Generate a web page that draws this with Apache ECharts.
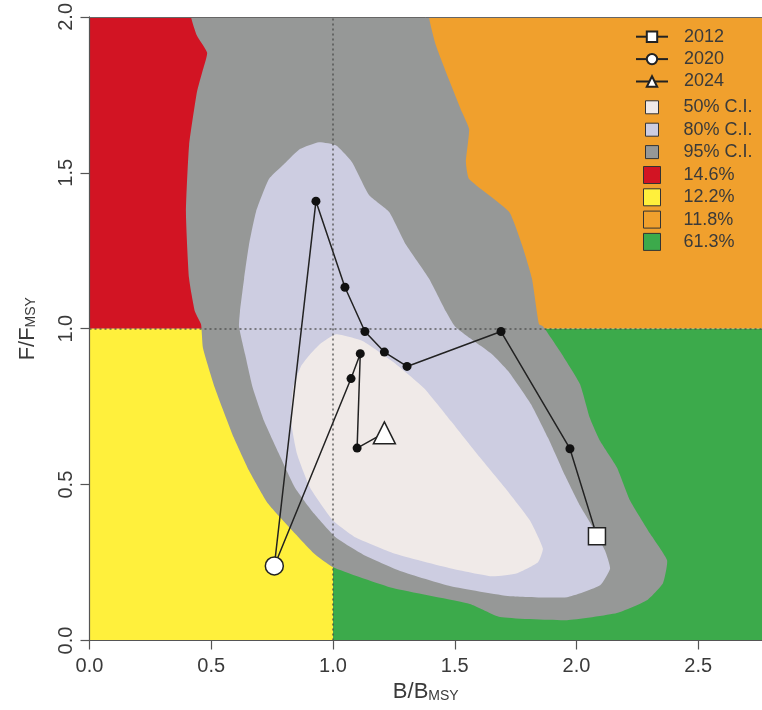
<!DOCTYPE html>
<html><head><meta charset="utf-8">
<script src="https://cdn.jsdelivr.net/npm/echarts@6/dist/echarts.min.js"></script>
<style>html,body{margin:0;padding:0;background:#fff}#c{width:762px;height:710px}</style>
</head><body><div id="c"></div>
<script>
// ---- data ----
const years = ['2012','2013','2014','2015','2016','2017','2018','2019','2020','2021','2022','2023','2024'];
const bRatio = [2.084, 1.973, 1.690, 1.304, 1.211, 1.131, 1.049, 0.930, 0.759, 1.074, 1.112, 1.099, 1.211];
const fRatio = [0.334, 0.615, 0.991, 0.879, 0.925, 0.991, 1.133, 1.409, 0.239, 0.840, 0.920, 0.617, 0.666];
const markedYears = ['2012', '2020', '2024'];
const xTickLabels = ['0.0', '0.5', '1.0', '1.5', '2.0', '2.5'];
const yTickLabels = ['0.0', '0.5', '1.0', '1.5', '2.0'];
const quadrantLabels = ['14.6%', '12.2%', '11.8%', '61.3%'];
const quadrantBounds = [[0, 1, 1, 2.1], [0, 0, 1, 1], [1, 1, 3, 2.1], [1, 0, 3, 1]];
const ciLabels = ['50% C.I.', '80% C.I.', '95% C.I.'];
const ci95 = [[0.417,2.1],[0.417,2.0],[0.441,1.940],[0.483,1.885],[0.466,1.831],[0.441,1.758],[0.409,1.588],[0.396,1.375],[0.409,1.161],[0.433,1.055],[0.458,1.014],[0.466,0.938],[0.515,0.810],[0.593,0.650],[0.655,0.545],[0.733,0.439],[0.844,0.343],[0.922,0.279],[1.000,0.235],[1.246,0.168],[1.562,0.117],[1.686,0.075],[1.961,0.065],[2.166,0.088],[2.289,0.129],[2.355,0.184],[2.372,0.257],[2.302,0.343],[2.220,0.449],[2.166,0.555],[2.097,0.640],[2.055,0.714],[2.014,0.823],[1.932,0.928],[1.862,1.008],[1.846,1.014],[1.817,1.161],[1.776,1.269],[1.723,1.375],[1.559,1.480],[1.546,1.534],[1.559,1.640],[1.530,1.694],[1.476,1.799],[1.423,1.908],[1.394,2.0],[1.394,2.1]];
const ci80 = [[0.942,1.598],[1.012,1.588],[1.078,1.534],[1.148,1.429],[1.230,1.375],[1.300,1.269],[1.394,1.161],[1.464,1.055],[1.501,1.007],[1.563,0.969],[1.653,0.918],[1.719,0.864],[1.813,0.758],[1.883,0.650],[1.953,0.529],[2.014,0.433],[2.068,0.362],[2.117,0.289],[2.138,0.231],[2.097,0.177],[1.961,0.139],[1.727,0.142],[1.484,0.174],[1.279,0.222],[1.123,0.276],[1.012,0.330],[0.922,0.407],[0.844,0.490],[0.778,0.599],[0.717,0.704],[0.671,0.809],[0.639,0.918],[0.614,1.007],[0.618,1.055],[0.635,1.161],[0.655,1.269],[0.684,1.375],[0.737,1.480],[0.807,1.534],[0.864,1.576]];
const ci50 = [[1.012,0.982],[1.123,0.960],[1.246,0.894],[1.374,0.809],[1.485,0.703],[1.591,0.599],[1.706,0.490],[1.809,0.385],[1.862,0.295],[1.842,0.251],[1.756,0.216],[1.653,0.206],[1.485,0.231],[1.251,0.279],[1.094,0.330],[1.000,0.385],[0.906,0.490],[0.852,0.599],[0.828,0.703],[0.836,0.809],[0.869,0.880],[0.906,0.918],[0.947,0.951]];
const refB = 1.0, refF = 1.0;

// ---- styles ----
const FONT = 'Liberation Sans, Arial, Helvetica, sans-serif';
const TXT = '#3a3a3a';
const quadColors = ['#D21423', '#FFF03C', '#F0A02D', '#3CAA4B'];
const ciColors = ['#F0EAE8', '#CDCDE1', '#969897'];
const ciData = [ci50, ci80, ci95];

const series = [];
quadrantLabels.forEach((name, i) => {
  series.push({
    name, type: 'custom', coordinateSystem: 'cartesian2d', clip: true, z: 1, silent: true,
    itemStyle: { color: quadColors[i] },
    encode: { x: [0, 2], y: [1, 3] },
    data: [quadrantBounds[i]],
    renderItem: (params, api) => {
      const p0 = api.coord([api.value(0), api.value(1)]);
      const p1 = api.coord([api.value(2), api.value(3)]);
      return { type: 'rect', shape: { x: p0[0], y: p1[1], width: p1[0] - p0[0], height: p0[1] - p1[1] }, style: { fill: quadColors[i] } };
    }
  });
});
[2, 1, 0].forEach((k) => {
  const pts = ciData[k];
  series.push({
    name: ciLabels[k], type: 'custom', coordinateSystem: 'cartesian2d', clip: true, z: 4 - k, silent: true,
    itemStyle: { color: ciColors[k] },
    encode: { x: 0, y: 1 },
    data: pts,
    renderItem: (params, api) => {
      if (params.dataIndex !== 0) return null;
      return { type: 'polygon', shape: { points: pts.map(p => api.coord(p)), smooth: 0.15 }, style: { fill: ciColors[k] } };
    }
  });
});
// reference lines
series.push({
  name: 'ref', type: 'line', data: [], z: 5, silent: true,
  markLine: {
    silent: true, symbol: 'none', label: { show: false },
    lineStyle: { color: '#4a4a4a', width: 1.5, type: [2, 3], opacity: 0.85 },
    data: [{ xAxis: refB }, { yAxis: refF }]
  }
});
// trajectory
series.push({
  name: 'trajectory', type: 'line', z: 6, silent: true,
  data: bRatio.map((b, i) => [b, fRatio[i]]),
  symbol: 'circle', symbolSize: 9,
  itemStyle: { color: '#111' },
  lineStyle: { color: '#222', width: 1.5 },
  animation: false
});
const markerSymbols = ['rect', 'circle', 'triangle'];
const markerSizes = [17, 18, 22];
markedYears.forEach((y, i) => {
  const idx = years.indexOf(y);
  series.push({
    name: y, type: 'line', z: 7, silent: true,
    data: [[bRatio[idx], fRatio[idx]]],
    symbol: markerSymbols[i], symbolSize: markerSizes[i],
    itemStyle: { color: '#fff', borderColor: '#222', borderWidth: 1.5 },
    lineStyle: { color: '#222', width: 1.5 },
    animation: false
  });
});

const legendText = (pad) => ({ fontSize: 18, color: TXT, fontFamily: FONT, padding: [0, 0, 0, pad] });
const nameRich = { a: { fontSize: 22, color: TXT, fontFamily: FONT }, s: { fontSize: 14, color: TXT, fontFamily: FONT, verticalAlign: 'bottom', padding: [8, 0, 0, 0] } };

const option = {
  animation: false,
  backgroundColor: '#fff',
  grid: { left: 89.5, right: 0, top: 14, bottom: 69.5, containLabel: false },
  xAxis: [{
    type: 'value', min: 0, max: 2.7618, interval: 0.5, z: 10,
    name: '{a|B/B}{s|MSY}', nameLocation: 'middle', nameGap: 39,
    nameTextStyle: { rich: nameRich },
    axisLine: { show: true, lineStyle: { color: '#555', width: 1.2 } },
    axisTick: { show: true, inside: false, length: 9, lineStyle: { color: '#555', width: 1.2 } },
    axisLabel: { showMaxLabel: false, margin: 16, fontSize: 20, color: TXT, fontFamily: FONT,
      formatter: v => { const i = Math.round(v / 0.5); return Math.abs(v - i * 0.5) < 1e-6 ? (xTickLabels[i] || '') : ''; } },
    splitLine: { show: false }
  }, {
    type: 'value', position: 'top', min: 0, max: 2.7618, z: 10,
    axisLine: { show: true, lineStyle: { color: '#666', width: 1 } },
    axisTick: { show: false }, axisLabel: { show: false }, splitLine: { show: false }
  }],
  yAxis: {
    type: 'value', min: 0, max: 2, interval: 0.5, z: 10,
    name: '{a|F/F}{s|MSY}', nameLocation: 'middle', nameGap: 51, nameRotate: 90,
    nameTextStyle: { rich: nameRich },
    axisLine: { show: true, lineStyle: { color: '#555', width: 1.2 } },
    axisTick: { show: true, inside: false, length: 9, lineStyle: { color: '#555', width: 1.2 } },
    axisLabel: { rotate: 90, margin: 13, fontSize: 20, color: TXT, fontFamily: FONT,
      formatter: v => { const i = Math.round(v / 0.5); return yTickLabels[i] || ''; } },
    splitLine: { show: false }
  },
  legend: [{
    data: markedYears, orient: 'vertical', left: 635, top: 27.7, itemWidth: 32, itemHeight: 13, itemGap: 4.4,
    padding: 0, selectedMode: false, textStyle: legendText(11)
  }, {
    data: ciLabels.map((n, k) => ({ name: n, icon: 'rect', itemStyle: { color: ciColors[k], borderColor: '#333', borderWidth: 1 } })),
    orient: 'vertical', left: 645, top: 98.3, itemWidth: 13, itemHeight: 13, itemGap: 4.4,
    padding: 0, selectedMode: false, textStyle: legendText(20)
  }, {
    data: quadrantLabels.map((n, k) => ({ name: n, icon: 'rect', itemStyle: { color: quadColors[k], borderColor: '#333', borderWidth: 1 } })),
    orient: 'vertical', left: 643, top: 166, itemWidth: 17, itemHeight: 17, itemGap: 4.3,
    padding: 0, selectedMode: false, textStyle: legendText(18)
  }],
  series
};
const chart = echarts.init(document.getElementById('c'), null, { renderer: 'canvas' });
chart.setOption(option);
</script></body></html>
